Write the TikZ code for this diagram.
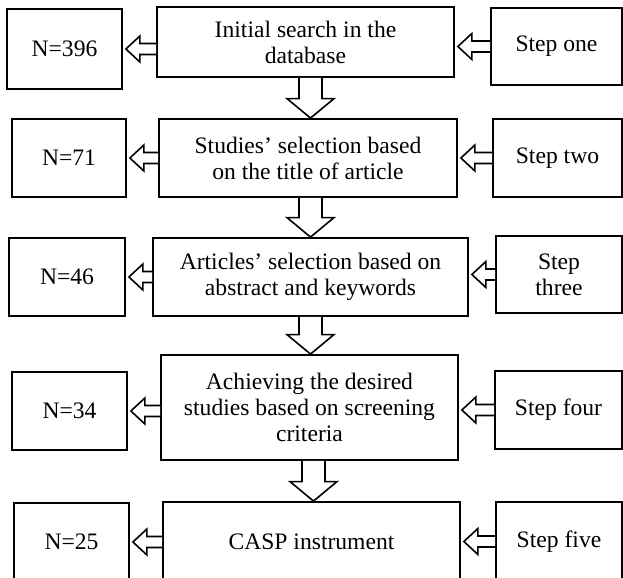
\documentclass[tikz,border=0pt]{standalone}
\usepackage{fontspec}
\setmainfont{Liberation Serif}
\usetikzlibrary{calc}
\tikzset{
  box/.style={draw, line width=0.9pt, inner sep=0pt, align=center,
    font=\fontsize{11.8}{13}\selectfont},
  blk/.style={draw, line width=0.8pt, fill=white, line join=miter},
}
% left-pointing hollow block arrow: #1 tail, #2 tip (same height)
\newcommand\larr[2]{%
  \draw[blk] ($(#1)+(0,-5.5)$) -- ($(#2)+(14,-5.5)$) -- ($(#2)+(14,-13)$) -- (#2)
    -- ($(#2)+(14,13)$) -- ($(#2)+(14,5.5)$) -- ($(#1)+(0,5.5)$);}
% down-pointing hollow block arrow: #1 tail, #2 tip
\newcommand\darr[2]{%
  \draw[blk] ($(#1)+(-11.5,0)$) -- ($(#2)+(-11.5,-19.5)$) -- ($(#2)+(-23.5,-19.5)$) -- (#2)
    -- ($(#2)+(23.5,-19.5)$) -- ($(#2)+(11.5,-19.5)$) -- ($(#1)+(11.5,0)$);}
\begin{document}
\begin{tikzpicture}[x=0.5pt,y=-0.5pt]
\useasboundingbox (0,0) rectangle (623,578);
\clip (0,0) rectangle (623,578);
% row 1
\node[box, minimum width=57.5pt, minimum height=40pt] (L1) at (64.5,49) {N=396};
\node[box, minimum width=148.5pt, minimum height=35pt] (M1) at (305.5,42) {Initial search in the\\database};
\node[box, minimum width=65.5pt, minimum height=38.5pt] (R1) at (556.5,46.5) {Step one};
% row 2
\node[box, minimum width=57pt, minimum height=39pt] (L2) at (69,158) {N=71};
\node[box, minimum width=149pt, minimum height=39pt] (M2) at (308,158) {Studies’ selection based\\on the title of article};
\node[box, minimum width=64.5pt, minimum height=39pt] (R2) at (557.5,158) {Step two};
% row 3
\node[box, minimum width=58pt, minimum height=39pt] (L3) at (67,277) {N=46};
\node[box, minimum width=157.5pt, minimum height=39pt] (M3) at (310.5,277) {Articles’ selection based on\\abstract and keywords};
\node[box, minimum width=63pt, minimum height=38.5pt] (R3) at (559,274.5) {Step\\three};
% row 4
\node[box, minimum width=57.5pt, minimum height=39pt] (L4) at (69.5,411) {N=34};
\node[box, minimum width=148.5pt, minimum height=52.5pt] (M4) at (309.5,407.5) {Achieving the desired\\studies based on screening\\criteria};
\node[box, minimum width=63.5pt, minimum height=39pt] (R4) at (558.5,410) {Step four};
% row 5
\node[box, minimum width=57.5pt, minimum height=39pt] (L5) at (71.5,542) {N=25};
\node[box, minimum width=148.5pt, minimum height=39.5pt] (M5) at (311.5,541.5) {CASP instrument};
\node[box, minimum width=63pt, minimum height=39.5pt] (R5) at (559,541.5) {Step five};
% horizontal arrows
\foreach \i in {1,...,5}{
  \coordinate (lt\i) at (M\i.west |- L\i.center);
  \coordinate (lh\i) at ($(L\i.east)+(3,0)$);
  \coordinate (rt\i) at (R\i.west);
  \coordinate (rh\i) at ($(M\i.east |- R\i.west)+(3,0)$);
  \larr{lt\i}{lh\i}
  \larr{rt\i}{rh\i}
}
% vertical arrows
\coordinate (ax) at (310.5,0);
\coordinate (bx) at (313.5,0);
\coordinate (d1t) at (ax |- M1.south); \coordinate (d1h) at (ax |- M2.north);
\coordinate (d2t) at (ax |- M2.south); \coordinate (d2h) at (ax |- M3.north);
\coordinate (d3t) at (ax |- M3.south); \coordinate (d3h) at (ax |- M4.north);
\coordinate (d4t) at (bx |- M4.south); \coordinate (d4h) at (bx |- M5.north);
\darr{d1t}{d1h}
\darr{d2t}{d2h}
\darr{d3t}{d3h}
\darr{d4t}{d4h}
\end{tikzpicture}
\end{document}
